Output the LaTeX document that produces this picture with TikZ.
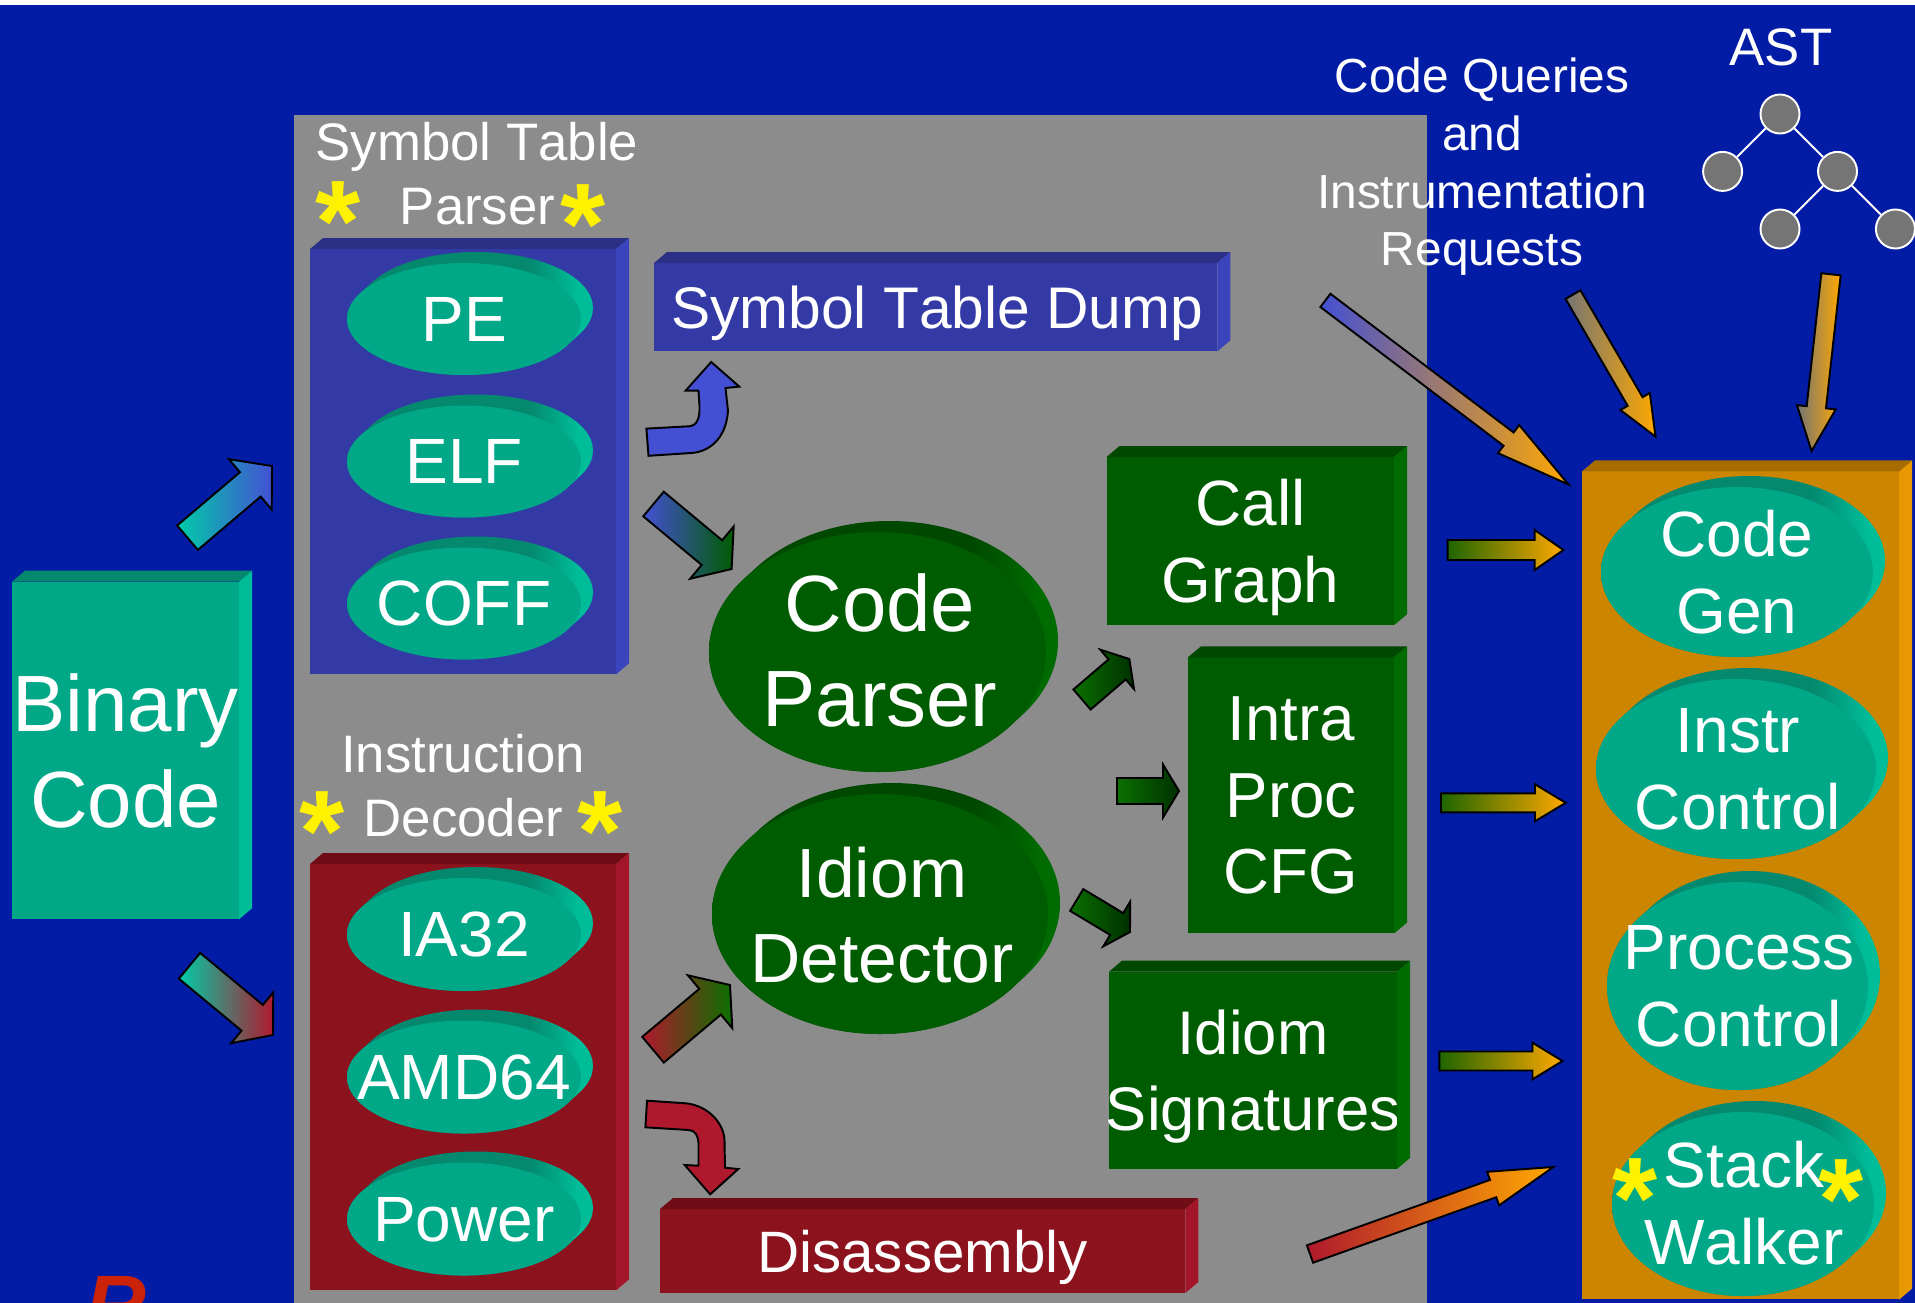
\documentclass[tikz,border=0pt]{standalone}
\usepackage{fontspec}
\setmainfont[Kerning=Off]{Liberation Sans}
\usetikzlibrary{shapes.geometric, calc}

\definecolor{slidebg}{HTML}{031CA6}
\definecolor{panelgray}{HTML}{8C8C8C}
\definecolor{tealfront}{HTML}{00A888}
\definecolor{tealside}{HTML}{00BD9A}
\definecolor{tealtop}{HTML}{04896F}
\definecolor{bluefront}{HTML}{333AA6}
\definecolor{blueside}{HTML}{3A44BD}
\definecolor{bluetop}{HTML}{2B3087}
\definecolor{redfront}{HTML}{8C121E}
\definecolor{redside}{HTML}{A3162A}
\definecolor{redtop}{HTML}{6F0C15}
\definecolor{greenfront}{HTML}{005C00}
\definecolor{greenside}{HTML}{006B00}
\definecolor{greentop}{HTML}{004700}
\definecolor{orangefront}{HTML}{CC8500}
\definecolor{orangeside}{HTML}{E89800}
\definecolor{orangetop}{HTML}{A66C00}
\definecolor{arrowblue}{HTML}{4450D4}
\definecolor{arrowred}{HTML}{B0192D}
\definecolor{arrowteal}{HTML}{00CCA8}
\definecolor{arrowgreen}{HTML}{0A7000}
\definecolor{arrowdark}{HTML}{003000}
\definecolor{arroworange}{HTML}{FFA800}
\definecolor{arrowgray}{HTML}{757575}
\definecolor{arrowpink}{HTML}{B880A8}
\definecolor{tailgreen}{HTML}{1F6600}
\definecolor{astgray}{HTML}{757575}

\pgfdeclarehorizontalshading{tealrim}{100bp}{color(0bp)=(tealtop); color(62bp)=(tealtop); color(72bp)=(tealside); color(100bp)=(tealside)}
\pgfdeclarehorizontalshading{greenrim}{100bp}{color(0bp)=(greentop); color(62bp)=(greentop); color(72bp)=(greenside); color(100bp)=(greenside)}

\tikzset{
  slab/.style={rectangle, anchor=north west, inner sep=0pt, outer sep=0pt, align=center, text=white, text depth=0pt},
  disctext/.style={text=white, align=center, inner sep=0pt, text depth=0pt, font=\fontsize{18.2}{21.8}\selectfont},
  caption/.style={text=white, inner sep=0pt, anchor=base, font=\fontsize{15}{16.4}\selectfont},
  star/.style={text=yellow, inner sep=0pt, anchor=base, font=\fontsize{33}{33}\bfseries\selectfont},
  astnode/.style={circle, draw=white, line width=.55pt, fill=astgray, minimum size=.39cm, inner sep=0pt},
  blockarrow/.style n args={3}{black, line width=.55pt, line join=miter, to path={
    ($(\tikztostart)!#1!90:(\tikztotarget)$)
    -- ($(\tikztotarget)!#3!(\tikztostart)!#1!90:(\tikztotarget)$)
    -- ($(\tikztotarget)!#3!(\tikztostart)!#2!90:(\tikztotarget)$)
    -- (\tikztotarget)
    -- ($(\tikztotarget)!#3!(\tikztostart)!#2!-90:(\tikztotarget)$)
    -- ($(\tikztotarget)!#3!(\tikztostart)!#1!-90:(\tikztotarget)$)
    -- ($(\tikztostart)!#1!-90:(\tikztotarget)$) -- cycle}},
  bendarrow/.style={draw=black, line width=.55pt}
}

% side and top faces of a slab node
\newcommand{\slabfaces}[3]{
  \fill[#3] (#1.north west) -- ++(13,-11) -- ($(#1.north east)+(13,-11)$) -- (#1.north east) -- cycle;
  \fill[#2] (#1.north east) -- ++(13,-11) -- ($(#1.south east)+(13,-11)$) -- (#1.south east) -- cycle;
}
% disc: name, x, y, x radius, y radius, rim shading, face colour
\newcommand{\disc}[7]{
  \path[shading=#6] (#2+4,#3-3.7) ellipse [x radius=#4, y radius=#5] (#2+8,#3-7.3) ellipse [x radius=#4, y radius=#5] (#2+12,#3-11) ellipse [x radius=#4, y radius=#5] (#2,#3) ellipse [x radius=#4, y radius=#5];
  \node[ellipse, fill=#7, inner sep=0pt, minimum width={2*#4*.01cm}, minimum height={2*#5*.01cm}] (#1) at (#2,#3) {};
}

\begin{document}
\begin{tikzpicture}[x=.01cm, y=-.01cm]
\useasboundingbox (0,0) rectangle (1915,1303);

% Slide background and gray panel
\fill[slidebg] (0,5) rectangle (1915,1303);
\fill[panelgray] (294,115) rectangle (1427,1303);

% Slabs
\node[slab, fill=tealfront, minimum width=2.27cm, minimum height=3.373cm, font=\fontsize{22.7}{27.4}\selectfont] (binCode) at (12,581.7) {Binary\\Code};
\slabfaces{binCode}{tealside}{tealtop}
\node[slab, fill=bluefront, minimum width=3.06cm, minimum height=4.25cm] (symParser) at (310,249) {};
\slabfaces{symParser}{blueside}{bluetop}
\node[slab, fill=redfront, minimum width=3.06cm, minimum height=4.26cm] (insDecoder) at (310,864) {};
\slabfaces{insDecoder}{redside}{redtop}
\node[slab, fill=bluefront, minimum width=5.63cm, minimum height=.883cm, font=\fontsize{16.7}{20}\selectfont] (symDump) at (654,263) {\hspace{.03cm}Symbol Table Dump};
\slabfaces{symDump}{blueside}{bluetop}
\node[slab, fill=redfront, minimum width=5.25cm, minimum height=.84cm, font=\fontsize{16.6}{20}\selectfont] (disasm) at (660,1209) {Disassembly};
\slabfaces{disasm}{redside}{redtop}
\node[slab, fill=greenfront, minimum width=2.875cm, minimum height=1.68cm, font=\fontsize{18.2}{21.9}\selectfont] (callGraph) at (1106.5,457) {Call\\Graph};
\slabfaces{callGraph}{greenside}{greentop}
\node[slab, fill=greenfront, minimum width=2.06cm, minimum height=2.76cm, font=\fontsize{18.1}{21.7}\selectfont] (intraCfg) at (1188,657.3) {Intra\\Proc\\CFG};
\slabfaces{intraCfg}{greenside}{greentop}
\node[slab, fill=greenfront, minimum width=2.88cm, minimum height=1.97cm, font=\fontsize{17.5}{21.4}\selectfont] (idiomSig) at (1109,971.7) {Idiom\\\makebox[2.7cm]{Signatures}};
\slabfaces{idiomSig}{greenside}{greentop}
\node[slab, fill=orangefront, minimum width=3.17cm, minimum height=8.276cm] (runtime) at (1582,471.4) {};
\slabfaces{runtime}{orangeside}{orangetop}

% Discs of the symbol table parser
\disc{discPe}{464}{319}{117}{56}{tealrim}{tealfront}
\node[disctext] (discPeText) at (discPe) {PE};
\disc{discElf}{464}{461.5}{117}{56}{tealrim}{tealfront}
\node[disctext] (discElfText) at (discElf) {ELF};
\disc{discCoff}{464}{603.5}{117}{56}{tealrim}{tealfront}
\node[disctext] (discCoffText) at (discCoff) {COFF};

% Discs of the instruction decoder
\disc{discIa}{464}{934.5}{117}{56.5}{tealrim}{tealfront}
\node[disctext] (discIaText) at (discIa) {IA32};
\disc{discAmd}{464}{1077}{117}{56.5}{tealrim}{tealfront}
\node[disctext] (discAmdText) at (discAmd) {AMD64};
\disc{discPower}{464}{1219}{117}{56.5}{tealrim}{tealfront}
\node[disctext] (discPowerText) at (discPower) {Power};

% Discs of the right column
\disc{discGen}{1737}{572}{136}{85}{tealrim}{tealfront}
\node[disctext] (discGenText) at (discGen) {Code\\Gen};
\disc{discInstr}{1736}{769}{140}{90}{tealrim}{tealfront}
\node[disctext] (discInstrText) at (1738,769) {Instr\\Control};
\disc{discProc}{1737.5}{986}{130.5}{104}{tealrim}{tealfront}
\node[disctext] (discProcText) at (1739,986) {Process\\Control};
\disc{discStack}{1743}{1204}{131}{92}{tealrim}{tealfront}
\node[disctext] (discStackText) at (1744,1203) {Stack\\Walker};

% Green discs in the middle
\disc{codeParser}{877.5}{652}{168.5}{120}{greenrim}{greenfront}
\node[disctext, font=\fontsize{22.7}{27.2}\selectfont] (codeParserText) at (880,650) {Code\\Parser};
\disc{idiomDet}{880}{914}{168}{120}{greenrim}{greenfront}
\node[disctext, font=\fontsize{19.8}{24.2}\selectfont] (idiomDetText) at (882,915) {Idiom\\Detector};

% Captions
\node[caption] (capSymbol) at (477,160.7) {Symbol Table};
\node[caption] (capParser) at (477.5,224) {Parser};
\node[caption] (capInstr) at (463,772.5) {Instruction};
\node[caption] (capDecoder) at (463.5,836.5) {Decoder};
\node[caption] (capAst) at (1781,65.6) {AST};
\node[text=white, align=center, inner sep=0pt, text depth=0pt, font=\fontsize{13.6}{16.4}\selectfont] (capQueries) at (1482,162) {Code Queries\\and\\Instrumentation\\Requests};

% Stars
\node[star] (starA) at (338,261.5) {*};
\node[star] (starB) at (583.5,264.5) {*};
\node[star] (starC) at (322.5,871.5) {*};
\node[star] (starD) at (600,871.5) {*};
\node[star] (starE) at (1635,1238.5) {*};
\node[star] (starF) at (1841,1239.5) {*};

% AST tree
\node[astnode] (astRoot) at (1780,114) {};
\node[astnode] (astLeft) at (1722.6,171.4) {};
\node[astnode] (astRight) at (1837.5,171.4) {};
\node[astnode] (astLow) at (1780,229) {};
\node[astnode] (astLeaf) at (1895.4,229) {};
\draw[white, line width=.55pt] (astRoot) -- (astLeft);
\draw[white, line width=.55pt] (astRoot) -- (astRight);
\draw[white, line width=.55pt] (astRight) -- (astLow);
\draw[white, line width=.55pt] (astRight) -- (astLeaf);

% Block arrows, each from its tail to its tip
\coordinate (binUpTail) at (187.5,537.7); \coordinate (binUpTip) at (272,466);
\draw[blockarrow={.16cm}{.33cm}{.284cm}, left color=arrowteal, right color=arrowblue] (binUpTail) to (binUpTip);
\coordinate (binDownTail) at (189.5,965.8); \coordinate (binDownTip) at (273,1035);
\draw[blockarrow={.167cm}{.33cm}{.27cm}, left color=arrowteal, right color=arrowred] (binDownTail) to (binDownTip);
\coordinate (symToCodeTail) at (653.5,504); \coordinate (symToCodeTip) at (731.6,569);
\draw[blockarrow={.16cm}{.34cm}{.256cm}, left color=arrowblue, right color=greenfront] (symToCodeTail) to (symToCodeTip);
\coordinate (insToIdiomTail) at (653,1049.7); \coordinate (insToIdiomTip) at (730,985);
\draw[blockarrow={.168cm}{.345cm}{.26cm}, left color=arrowred, right color=arrowgreen] (insToIdiomTail) to (insToIdiomTip);
\coordinate (dumpOutTail) at (1325.4,300.4); \coordinate (dumpOutTip) at (1568.4,484.4);
\draw[blockarrow={.083cm}{.176cm}{.75cm}, left color=arrowblue, middle color=arrowpink, right color=arroworange] (dumpOutTail) to (dumpOutTip);
\coordinate (queryTail) at (1573,294.6); \coordinate (queryTip) at (1655.5,436.6);
\draw[blockarrow={.086cm}{.17cm}{.406cm}, left color=arrowgray, middle color=arroworange!55!arrowgray, right color=arroworange] (queryTail) to (queryTip);
\coordinate (astTail) at (1831,274.3); \coordinate (astTip) at (1811.5,451);
\draw[blockarrow={.097cm}{.195cm}{.44cm}, left color=arrowgray, middle color=arroworange!55!arrowgray, right color=arroworange] (astTail) to (astTip);
\coordinate (callOutTail) at (1447.6,550); \coordinate (callOutTip) at (1563.4,550);
\draw[blockarrow={.1cm}{.2cm}{.287cm}, left color=tailgreen, middle color=arroworange!75!tailgreen, right color=arroworange] (callOutTail) to (callOutTip);
\coordinate (intraOutTail) at (1441,802.8); \coordinate (intraOutTip) at (1565.7,802.8);
\draw[blockarrow={.095cm}{.185cm}{.307cm}, left color=tailgreen, middle color=arroworange!75!tailgreen, right color=arroworange] (intraOutTail) to (intraOutTip);
\coordinate (sigOutTail) at (1439.4,1061); \coordinate (sigOutTip) at (1562.5,1061);
\draw[blockarrow={.095cm}{.183cm}{.3cm}, left color=tailgreen, middle color=arroworange!75!tailgreen, right color=arroworange] (sigOutTail) to (sigOutTip);
\coordinate (disOutTail) at (1310,1254); \coordinate (disOutTip) at (1553.4,1167);
\draw[blockarrow={.092cm}{.178cm}{.64cm}, left color=arrowred, middle color=arroworange!75!arrowred, right color=arroworange] (disOutTail) to (disOutTip);
\coordinate (parseCallTail) at (1082,699.5); \coordinate (parseCallTip) at (1129.3,659);
\draw[blockarrow={.132cm}{.26cm}{.16cm}, left color=arrowgreen, right color=arrowdark] (parseCallTail) to (parseCallTip);
\coordinate (parseCfgTail) at (1117,791); \coordinate (parseCfgTip) at (1179,791);
\draw[blockarrow={.13cm}{.265cm}{.16cm}, left color=arrowgreen, right color=arrowdark] (parseCfgTail) to (parseCfgTip);
\coordinate (idiomSigTail) at (1076.7,900); \coordinate (idiomSigTip) at (1130,932);
\draw[blockarrow={.127cm}{.26cm}{.155cm}, left color=arrowgreen, right color=arrowdark] (idiomSigTail) to (idiomSigTip);

% Bent arrows
\draw[bendarrow, fill=arrowblue] (646.4,428.6) -- (688.8,426.3) .. controls (697,426) and (700,418) .. (699.5,406) -- (698.5,390.6) -- (685.7,390.6) -- (711.2,362) -- (739.3,386.6) -- (725.5,388) -- (728,410.7) .. controls (726,440) and (708,452) .. (691.3,453) -- (648.5,455.8) -- cycle;
\draw[bendarrow, fill=arrowred] (647,1100.7) -- (686,1103.3) .. controls (710,1106) and (724,1125) .. (724.5,1140) -- (725,1167.7) -- (738.3,1169) -- (710.2,1194.3) -- (684.7,1165) -- (698.5,1165.7) -- (698.5,1143.3) .. controls (698,1135) and (695,1130.5) .. (688.8,1130) -- (645.4,1127.3) -- cycle;

% Cut off at the lower edge
\node[text={rgb,255:red,204;green,34;blue,8}, inner sep=0pt, anchor=base west, font=\fontsize{24}{24}\bfseries\itshape\selectfont] (cutLetter) at (85,1334) {R};
\end{tikzpicture}
\end{document}
